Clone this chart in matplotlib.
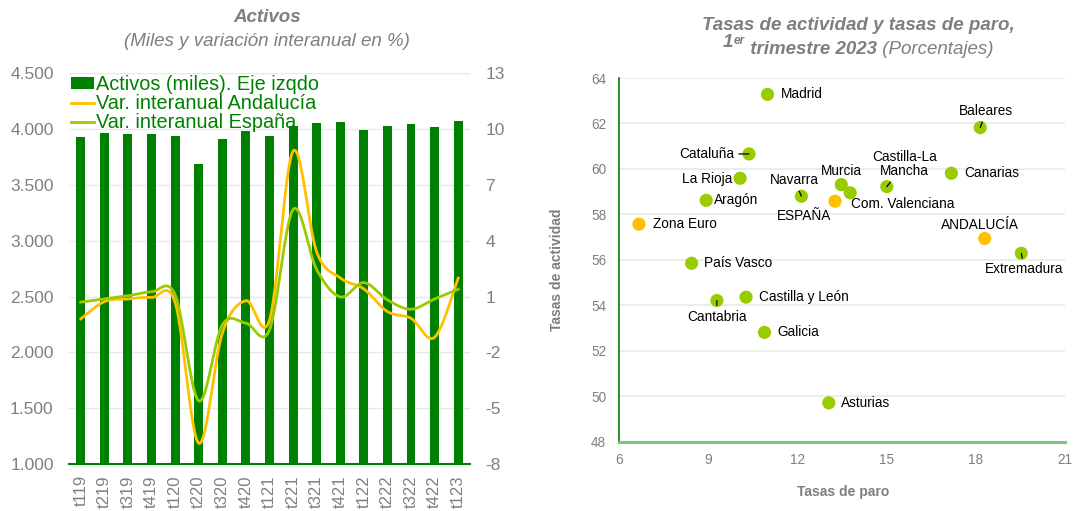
import numpy as np
import matplotlib as mpl

mpl.use('agg')

import matplotlib.pyplot as plt

plt.rcParams['font.family'] = ['Liberation Sans', 'DejaVu Sans']
plt.rcParams['axes.unicode_minus'] = False

# datos: activos y variacion interanual
trimestres = ['t119', 't219', 't319', 't419', 't120', 't220', 't320', 't420', 't121',
              't221', 't321', 't421', 't122', 't222', 't322', 't422', 't123']
activos = [3930, 3966, 3960, 3957, 3942, 3691, 3915, 3987, 3936,
           4026, 4052, 4067, 3990, 4029, 4046, 4022, 4070]
var_andalucia = [-0.2, 0.73, 0.87, 0.95, 0.68, -6.89, -0.97, 0.78, -0.27,
                 8.82, 3.4, 2.0, 1.41, 0.19, -0.17, -1.19, 1.99]
var_espana = [0.7, 0.87, 1.04, 1.25, 1.09, -4.61, -0.52, -0.43, -0.79,
              5.68, 2.45, 0.98, 1.75, 0.82, 0.32, 0.87, 1.39]

# datos: tasas de paro / actividad 1T 2023
regiones = ['Madrid', 'Baleares', 'Cataluña', 'La Rioja', 'Aragón', 'Navarra', 'Murcia',
            'Com. Valenciana', 'Castilla-La\nMancha', 'Canarias', 'ESPAÑA', 'Zona Euro',
            'ANDALUCÍA', 'Extremadura', 'País Vasco', 'Cantabria', 'Castilla y León',
            'Galicia', 'Asturias']
tasa_paro = [11.0, 18.15, 10.38, 10.08, 8.94, 12.14, 13.48, 13.78, 15.01, 17.18,
             13.27, 6.68, 18.3, 19.53, 8.45, 9.3, 10.28, 10.9, 13.06]
tasa_actividad = [63.28, 61.82, 60.66, 59.59, 58.62, 58.8, 59.31, 58.95, 59.22, 59.81,
                  58.58, 57.57, 56.94, 56.29, 55.85, 54.21, 54.36, 52.81, 49.71]
destacados = ['ESPAÑA', 'Zona Euro', 'ANDALUCÍA']

GRIS = '#7F7F7F'
VERDE = '#008000'
NARANJA = '#FFC000'
VERDE_CLARO = '#99CC00'
REJILLA = '#E2EDE2'


def suavizar(y, n=24):
    # curva suavizada tipo excel (catmull-rom)
    y = np.asarray(y, dtype=float)
    x = np.arange(len(y), dtype=float)
    p = np.column_stack([x, y])
    p = np.vstack([p[0], p, p[-1]])
    out = []
    t = np.linspace(0, 1, n)[:, None]
    for i in range(1, len(p) - 2):
        p0, p1, p2, p3 = p[i - 1], p[i], p[i + 1], p[i + 2]
        c1 = p1 + (p2 - p0) / 6
        c2 = p2 - (p3 - p1) / 6
        seg = ((1 - t) ** 3) * p1 + 3 * ((1 - t) ** 2) * t * c1 + 3 * (1 - t) * t ** 2 * c2 + t ** 3 * p2
        out.append(seg)
    out = np.vstack(out)
    return out[:, 0], out[:, 1]


fig = plt.figure(figsize=(10.73, 5.11), dpi=100)

################ grafico izquierdo
ax = fig.add_axes([0.0643, 0.092, 0.3737, 0.7646])
x = np.arange(len(trimestres))
barras = ax.bar(x, activos, width=0.38, color=VERDE, zorder=2,
                label='Activos (miles). Eje izqdo')
ax.set_ylim(1000, 4500)
ax.set_xlim(-0.5, len(trimestres) - 0.5)
ax.set_yticks(np.arange(1000, 4501, 500))
ax.set_yticklabels([f'{v:,.0f}'.replace(',', '.') for v in np.arange(1000, 4501, 500)])
ax.set_xticks(x)
ax.set_xticklabels(trimestres, rotation=90)
ax.yaxis.grid(True, color=REJILLA, lw=1, zorder=0)
ax.set_axisbelow(True)
for s in ['left', 'right', 'top']:
    ax.spines[s].set_visible(False)
ax.spines['bottom'].set_color(VERDE)
ax.spines['bottom'].set_linewidth(1.5)
ax.tick_params(axis='y', length=0, pad=11, labelsize=12.5, labelcolor=GRIS)
ax.tick_params(axis='x', length=0, pad=8, labelsize=12, labelcolor=GRIS)

ax2 = ax.twinx()
xs, ys = suavizar(var_andalucia)
l1, = ax2.plot(xs, ys, color=NARANJA, lw=2, label='Var. interanual Andalucía')
xs, ys = suavizar(var_espana)
l2, = ax2.plot(xs, ys, color=VERDE_CLARO, lw=2, label='Var. interanual España')
ax2.set_ylim(-8, 13)
ax2.set_yticks(np.arange(-8, 14, 3))
for s in ['left', 'right', 'top', 'bottom']:
    ax2.spines[s].set_visible(False)
ax2.tick_params(axis='y', length=0, pad=11, labelsize=12.5, labelcolor=GRIS)

leg = ax2.legend([barras, l1, l2], [barras.get_label(), l1.get_label(), l2.get_label()],
                 loc='upper left', bbox_to_anchor=(0.0, 1.0), frameon=False, fontsize=14.3,
                 labelspacing=0.0, handlelength=1.15, handletextpad=0.1, borderpad=0.0,
                 borderaxespad=0.1, handleheight=0.55)
for t in leg.get_texts():
    t.set_color(VERDE)

fig.text(0.249, 0.966, 'Activos', ha='center', va='center', fontsize=13.5,
         fontweight='bold', style='italic', color=GRIS)
fig.text(0.249, 0.918, '(Miles y variación interanual en %)', ha='center', va='center',
         fontsize=13.5, style='italic', color=GRIS)

################ grafico derecho
bx = fig.add_axes([0.5766, 0.1356, 0.416, 0.7117])
colores = [NARANJA if r in destacados else VERDE_CLARO for r in regiones]
bx.scatter(tasa_paro, tasa_actividad, s=90, c=colores, zorder=3, linewidths=0)
bx.set_xlim(6, 21)
bx.set_ylim(48, 64)
bx.set_xticks(np.arange(6, 22, 3))
bx.set_yticks(np.arange(48, 65, 2))
bx.yaxis.grid(True, color=REJILLA, lw=1.2, zorder=0)
bx.set_axisbelow(True)
bx.spines['top'].set_visible(False)
bx.spines['right'].set_visible(False)
bx.spines['left'].set_color(VERDE)
bx.spines['left'].set_linewidth(1.2)
bx.spines['bottom'].set_color('#7CC47C')
bx.spines['bottom'].set_linewidth(2.2)
bx.tick_params(length=0, labelsize=9.8, labelcolor=GRIS)
bx.tick_params(axis='y', pad=9)
bx.tick_params(axis='x', pad=8)
bx.set_xlabel('Tasas de paro', fontsize=10, fontweight='bold', color=GRIS)
bx.set_ylabel('Tasas de actividad', fontsize=10, fontweight='bold', color=GRIS)
bx.xaxis.set_label_coords(0.503, -0.12)
bx.yaxis.set_label_coords(-0.122, 0.473)

# posicion de las etiquetas (desplazamiento en puntos, alineacion, linea guia)
etiquetas = {
    'Madrid': ((9.8, 0), 'left', False),
    'Baleares': ((4.4, 12), 'center', True),
    'Cataluña': ((-10.3, 0), 'right', True),
    'La Rioja': ((-5.6, -0.7), 'right', False),
    'Aragón': ((5.9, 0), 'left', False),
    'Navarra': ((-4.9, 11.5), 'center', True),
    'Murcia': ((0, 9.5), 'center', False),
    'Com. Valenciana': ((0.7, -7.7), 'left', False),
    'Castilla-La\nMancha': ((12.7, 16), 'center', True),
    'Canarias': ((9.3, 0), 'left', False),
    'ESPAÑA': ((-22.3, -10.3), 'center', False),
    'Zona Euro': ((9.8, 0), 'left', False),
    'ANDALUCÍA': ((-3.7, 9.8), 'center', False),
    'Extremadura': ((2.2, -11.5), 'center', True),
    'País Vasco': ((9, 0), 'left', False),
    'Cantabria': ((0, -11.5), 'center', True),
    'Castilla y León': ((9, 0), 'left', False),
    'Galicia': ((9, 0), 'left', False),
    'Asturias': ((9, 0), 'left', False),
}
for r, xp, yp in zip(regiones, tasa_paro, tasa_actividad):
    off, ha, guia = etiquetas[r]
    props = dict(arrowstyle='-', color='black', lw=0.9, shrinkA=1, shrinkB=0) if guia else None
    bx.annotate(r, (xp, yp), xytext=off, textcoords='offset points', ha=ha, va='center',
                fontsize=9.8, color='black', linespacing=1.0, arrowprops=props, zorder=4)

# titulo derecho
fig.text(0.8, 0.951, 'Tasas de actividad y tasas de paro,', ha='center', va='center',
         fontsize=13.5, fontweight='bold', style='italic', color=GRIS)
t1 = fig.text(0.7, 0.908, '1', ha='left', va='baseline', fontsize=13.5,
              fontweight='bold', style='italic', color=GRIS)
t2 = bx.annotate('er', xy=(1, 0), xycoords=t1, xytext=(0.5, 5), textcoords='offset points',
                 va='baseline', ha='left', fontsize=8.5, fontweight='bold', style='italic',
                 color=GRIS, annotation_clip=False)
t3 = bx.annotate(' trimestre 2023', xy=(1, 0), xycoords=t2, xytext=(0, -5),
                 textcoords='offset points', va='baseline', ha='left', fontsize=13.5,
                 fontweight='bold', style='italic', color=GRIS, annotation_clip=False)
t4 = bx.annotate(' (Porcentajes)', xy=(1, 0), xycoords=t3, va='bottom', ha='left',
                 fontsize=13.5, style='italic', color=GRIS, annotation_clip=False)

# centrar la segunda linea del titulo
fig.canvas.draw()
r = fig.canvas.get_renderer()
x0 = t1.get_window_extent(r).x0
x1 = t4.get_window_extent(r).x1
ancho = (x1 - x0) / fig.bbox.width
t1.set_x(0.8 - ancho / 2)

plt.savefig('out.png', dpi=100)
plt.close()
